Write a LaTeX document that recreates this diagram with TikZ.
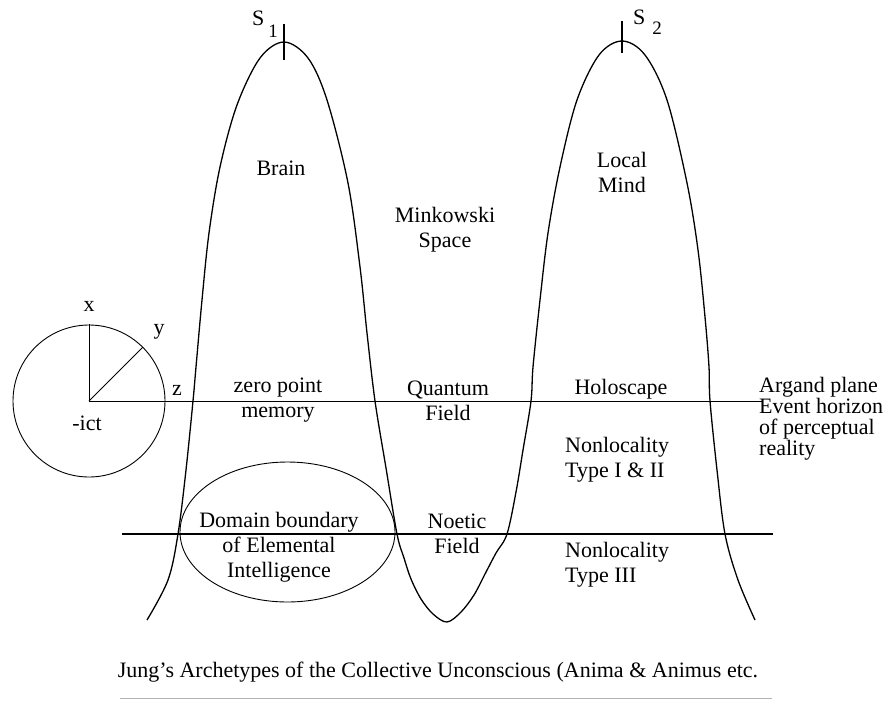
\documentclass[tikz,border=0pt]{standalone}
\usepackage{fontspec}
\setmainfont{Liberation Serif}

\begin{document}
\begin{tikzpicture}[x=1pt,y=-1pt]
\tikzset{
  lbl/.style={inner sep=0pt,font=\fontsize{22}{25}\selectfont,align=center},
  leftlbl/.style={lbl,align=left,anchor=west},
  wave/.style={line width=1.3pt},
  thinline/.style={line width=0.9pt},
  thickline/.style={line width=2.6pt},
  peaktick/.style={line width=2pt}
}
\useasboundingbox (0,0) rectangle (885,704);
% axes circle
\coordinate (o) at (89,401);
\coordinate (ax_x) at (89,324);
\coordinate (ax_y) at (143,347);
\coordinate (plane_end) at (763,401);
\coordinate (bound_l) at (122,534);
\coordinate (bound_r) at (773,534);
\draw[thinline] (o) circle [radius=76];
\draw[thinline] (o) -- (ax_x);
\draw[thinline] (o) -- (ax_y);
\draw[thinline] (o) -- (plane_end);
\draw[thickline] (bound_l) -- (bound_r);
% the wave
\draw[wave] plot[smooth,tension=0.55] coordinates {
  (147,620) (168,580) (178,534) (186,470) (193,401) (196,367) (202,300)
  (209,233) (220,167) (237,105) (260,58) (284,42) (308,58) (327,100)
  (348,183) (360,267) (367,333) (375,401) (386,468) (397,534) (404,558)
  (411,579) (421,599) (433,614) (447,622) (461,612) (474,595) (485,574)
  (496,553) (507,534) (516,492) (523,450) (531,401) (533,367) (540,300)
  (548,233) (560,167) (577,100) (599,55) (622,41) (645,55) (667,100)
  (687,183) (698,250) (705,317) (709,367) (710,401) (717,470) (725,534)
  (738,580) (755,620)};
% peaks
\coordinate (s1_top) at (284,24);
\coordinate (s1_bot) at (284,60);
\coordinate (s2_top) at (622,21);
\coordinate (s2_bot) at (622,53);
\draw[peaktick] (s1_top) -- (s1_bot);
\draw[peaktick] (s2_top) -- (s2_bot);
\node[lbl,anchor=base west] (s1) at (252,25) {S\hspace{4pt}\raisebox{-12pt}{\fontsize{19}{19}\selectfont 1}};
\node[lbl,anchor=base west] (s2) at (633,24) {S\hspace{7pt}\raisebox{-10pt}{\fontsize{19}{19}\selectfont 2}};
% domain ellipse
\draw[thinline] (287.5,532) ellipse [x radius=107.5, y radius=70];
% labels
\node[lbl] (ax_x_lbl) at (89,306) {x};
\node[lbl] (ax_y_lbl) at (159,332) {y};
\node[lbl] (ax_z_lbl) at (177,390) {z};
\node[lbl] (ict) at (87,423) {-ict};
\node[lbl] (brain) at (281,168) {Brain};
\node[lbl] (mink) at (445,230) {Minkowski\\Space};
\node[lbl] (local) at (622,172) {Local\\Mind};
\node[lbl] (zero) at (278,400) {zero point\\memory};
\node[lbl] (quant) at (448,401) {Quantum\\Field};
\node[lbl] (holo) at (621,389) {Holoscape};
\node[leftlbl,font=\fontsize{22}{21}\selectfont] (argand) at (759,419) {Argand plane\\Event horizon\\of perceptual\\reality};
\node[leftlbl] (nonloc1) at (565,460) {Nonlocality\\Type I \& II};
\node[leftlbl] (nonloc3) at (565,565) {Nonlocality\\Type III};
\node[lbl] (noetic) at (457,534) {Noetic\\Field};
\node[lbl] (domain) at (279,547) {Domain boundary\\of Elemental\\Intelligence};
\node[lbl] (jung) at (438,672) {Jung's Archetypes of the Collective Unconscious (Anima \& Animus etc.};
\coordinate (jung_l) at (120,698);
\coordinate (jung_r) at (772,698);
\draw[thinline,gray!60] (jung_l) -- (jung_r);
\end{tikzpicture}
\end{document}
